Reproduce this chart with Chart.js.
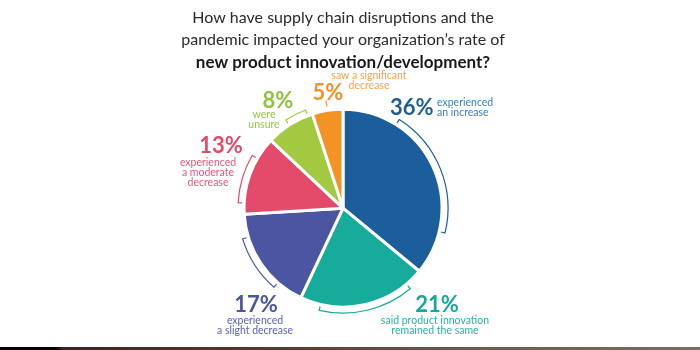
<!DOCTYPE html>
<html>
<head>
<meta charset="utf-8">
<script src="https://cdn.jsdelivr.net/npm/chart.js@4/dist/chart.umd.min.js"></script>
<style>
  html, body { margin: 0; padding: 0; background: #fff; }
  #wrap { position: relative; width: 700px; height: 350px; overflow: hidden; }
  #strip { position: absolute; left: 0; bottom: 0; width: 700px; height: 3px;
    background: linear-gradient(90deg, #0b0606 0%, #0b0606 8%, #3a2422 9%, #5a3a30 40%, #6a5a50 66%, #7a6e66 100%); }
</style>
</head>
<body>
<div id="wrap">
  <canvas id="c" width="700" height="350"></canvas>
  <div id="strip"></div>
</div>
<script>
// ---- data ----
const categories = [
  "experienced an increase",
  "said product innovation remained the same",
  "experienced a slight decrease",
  "experienced a moderate decrease",
  "were unsure",
  "saw a significant decrease"
];
const values = [36, 21, 17, 13, 8, 5];
const pctLabels = ["36%", "21%", "17%", "13%", "8%", "5%"];
const descLines = [
  ["experienced", "an increase"],
  ["said product innovation", "remained the same"],
  ["experienced", "a slight decrease"],
  ["experienced", "a moderate", "decrease"],
  ["were", "unsure"],
  ["saw a significant", "decrease"]
];
const titleLines = [
  "How have supply chain disruptions and the",
  "pandemic impacted your organization\u2019s rate of"
];
const subtitleLine = "new product innovation/development?";

// ---- style ----
const sliceColors = ["#1b5e9b", "#17ab9b", "#4b55a1", "#e44a69", "#a2c940", "#f39325"];
const pctColors   = ["#1b5e9b", "#17a899", "#4b55a1", "#e44a69", "#8fc33c", "#f39325"];
const descColors  = ["#3a7fc0", "#2ab3a6", "#5b62b2", "#e8587a", "#95c54e", "#f5a24e"];
// bracket spans as fraction of each slice
const bracketSpans = [[0.25, 0.80], [0.14, 0.84], [0.26, 0.78], [0.14, 0.72], [0.48, 0.90], [0.5, 0.5]];
// label layout: offsets from pie centre
const labelLayout = [
  { pct: [47, -100, "left"],  desc: [94, -106, "left"] },
  { pct: [94, 97, "center"],  desc: [92, 112, "center"] },
  { pct: [-87, 97, "center"], desc: [-88, 112, "center"] },
  { pct: [-122, -62, "center"], desc: [-135, -46, "center"] },
  { pct: [-65, -107, "center"], desc: [-79, -94, "center"] },
  { pct: [-15, -115, "center"], desc: [26, -133, "center"] }
];

const bracketPlugin = {
  id: 'brackets',
  afterDatasetsDraw(chart) {
    const ctx = chart.ctx;
    const meta = chart.getDatasetMeta(0);
    meta.data.forEach((arc, i) => {
      const p = arc.getProps(['x', 'y', 'startAngle', 'endAngle', 'outerRadius'], true);
      const span = p.endAngle - p.startAngle;
      const a0 = p.startAngle + bracketSpans[i][0] * span;
      const a1 = p.startAngle + bracketSpans[i][1] * span;
      const r = p.outerRadius + 6;
      ctx.save();
      ctx.strokeStyle = sliceColors[i];
      ctx.lineWidth = 1.2;
      ctx.beginPath();
      if (a1 - a0 < 0.01) {
        ctx.moveTo(p.x + Math.cos(a0) * (p.outerRadius + 4), p.y + Math.sin(a0) * (p.outerRadius + 4));
        ctx.lineTo(p.x + Math.cos(a0) * (p.outerRadius + 10), p.y + Math.sin(a0) * (p.outerRadius + 10));
      } else {
        ctx.moveTo(p.x + Math.cos(a0) * (r - 4), p.y + Math.sin(a0) * (r - 4));
        ctx.lineTo(p.x + Math.cos(a0) * r, p.y + Math.sin(a0) * r);
        ctx.arc(p.x, p.y, r, a0, a1);
        ctx.lineTo(p.x + Math.cos(a1) * (r - 4), p.y + Math.sin(a1) * (r - 4));
      }
      ctx.stroke();
      ctx.restore();
    });
  }
};

const labelPlugin = {
  id: 'sliceLabels',
  afterDraw(chart) {
    const ctx = chart.ctx;
    const arc = chart.getDatasetMeta(0).data[0];
    const cx = arc.x, cy = arc.y;
    ctx.save();
    ctx.textBaseline = 'middle';
    pctLabels.forEach((t, i) => {
      const L = labelLayout[i];
      ctx.font = 'bold 22px Lato';
      ctx.fillStyle = pctColors[i];
      ctx.textAlign = L.pct[2];
      ctx.fillText(t, cx + L.pct[0], cy + L.pct[1]);
      ctx.font = '10.5px Lato';
      ctx.fillStyle = descColors[i];
      ctx.textAlign = L.desc[2];
      descLines[i].forEach((line, j) => {
        ctx.fillText(line, cx + L.desc[0], cy + L.desc[1] + j * 10);
      });
    });
    ctx.restore();
  }
};

new Chart(document.getElementById('c'), {
  type: 'pie',
  data: {
    labels: categories,
    datasets: [{
      data: values,
      backgroundColor: sliceColors,
      borderColor: '#ffffff',
      borderWidth: 3
    }]
  },
  options: {
    responsive: false,
    animation: false,
    radius: 99,
    layout: { padding: { left: 0, right: 14, top: 0, bottom: 7 } },
    plugins: {
      legend: { display: false },
      tooltip: { enabled: false },
      title: {
        display: true,
        text: titleLines,
        color: '#2b2b2b',
        font: { family: 'Lato', size: 16, weight: 'normal', lineHeight: 1.38 },
        padding: { top: 7, bottom: 0 }
      },
      subtitle: {
        display: true,
        text: subtitleLine,
        color: '#1a1a1a',
        font: { family: 'Lato', size: 17, weight: 'bold', lineHeight: 1.3 },
        padding: { top: 0, bottom: 0 }
      }
    }
  },
  plugins: [bracketPlugin, labelPlugin]
});
</script>
</body>
</html>
